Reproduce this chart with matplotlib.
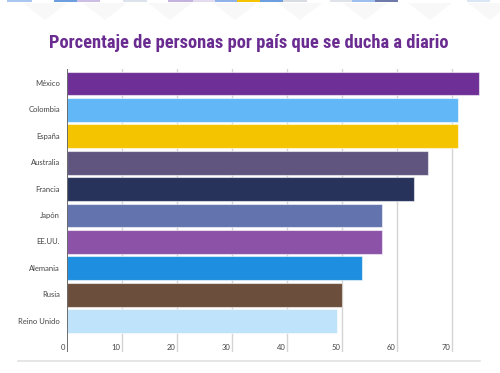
import matplotlib
matplotlib.use("Agg")
import matplotlib.pyplot as plt
from matplotlib.patches import Rectangle, Polygon
from matplotlib import font_manager as fm

countries = ["México", "Colombia", "España", "Australia", "Francia",
             "Japón", "EE.UU.", "Alemania", "Rusia", "Reino Unido"]
values = [75.0, 71.2, 71.2, 65.6, 63.2, 57.4, 57.3, 53.6, 50.1, 49.1]
bar_colors = ["#6e3096", "#62b7f7", "#f5c400", "#5f557f", "#28335c",
              "#6373ad", "#8c52a8", "#1e8fe0", "#6b4f3c", "#bfe3fa"]
x_ticks = [0, 10, 20, 30, 40, 50, 60, 70]
title = "Porcentaje de personas por país que se ducha a diario"

names = {f.name for f in fm.fontManager.ttflist}
title_font = "Roboto"
for cand in ["Roboto Condensed", "Open Sans Condensed", "DejaVu Sans Condensed", "Liberation Sans Narrow"]:
    if cand in names:
        title_font = cand
        break
label_font = "Lato" if "Lato" in names else "DejaVu Sans"

W, H = 500, 373
fig = plt.figure(figsize=(W / 100, H / 100), dpi=100)
fig.patch.set_facecolor("white")

# axes placed in pixel coordinates
left_px, right_px = 66.7, 495.7
top_px, bot_px = 69, 352
ax = fig.add_axes([left_px / W, 1 - bot_px / H, (right_px - left_px) / W, (bot_px - top_px) / H])
ax.set_xlim(0, 78)
ax.set_ylim(10.17, -0.55)

ypos = list(range(len(countries)))
ax.barh(ypos, values, height=0.9, color=bar_colors, edgecolor=(1, 1, 1, 0.55),
        linewidth=0.8, zorder=3)

for t in x_ticks[1:]:
    ax.axvline(t, color="#d4d4d4", lw=1, zorder=1)
ax.axvline(0, color="#555555", lw=1.2, zorder=4)

for s in ax.spines.values():
    s.set_visible(False)
ax.set_xticks([])
ax.set_yticks([])

for t in x_ticks:
    ax.text(t - 0.25, 10.0, str(t), ha="right", va="center", fontsize=5.5,
            color="#444444", family=label_font, zorder=5)

for y, c in zip(ypos, countries):
    ax.text(-1.2, y, c, ha="right", va="center", fontsize=5.5, color="#444444",
            family=label_font, clip_on=False)

fig.text(249 / W, 1 - 43 / H, title, ha="center", va="center", fontsize=13.3,
         fontweight="bold", color="#6a2c91", family=title_font)

# bottom separator line
fig.add_artist(plt.Line2D([18 / W, 480 / W], [1 - 361 / H, 1 - 361 / H],
                          color="#e2e2e2", lw=1.2, transform=fig.transFigure))

# decorative top strip
strip = [(7, 32, "#a9c6ee"), (54, 77, "#6d9fe0"), (77, 100, "#cbbde3"),
         (123, 147, "#dde3ec"), (168, 193, "#c4b3de"), (193, 215, "#e3dcef"),
         (215, 237, "#8fb3e8"), (237, 260, "#f5c400"), (260, 283, "#6d9fe0"),
         (283, 307, "#d9dce3"), (330, 352, "#dfe2e8"), (352, 375, "#9cbfee"),
         (375, 398, "#6f79aa"), (467, 490, "#dbe6f5")]
for x0, x1, col in strip:
    fig.add_artist(Rectangle((x0 / W, 1 - 2 / H), (x1 - x0) / W, 2 / H,
                             facecolor=col, edgecolor="none", transform=fig.transFigure))
for cx in [45, 105, 170, 235, 300, 365, 430, 490]:
    fig.add_artist(Polygon([((cx - 22) / W, 1 - 3 / H), ((cx + 22) / W, 1 - 3 / H),
                            (cx / W, 1 - 20 / H)], closed=True, facecolor="#f8f8f9",
                           edgecolor="none", transform=fig.transFigure, zorder=0))

fig.savefig("out.png", dpi=100)
